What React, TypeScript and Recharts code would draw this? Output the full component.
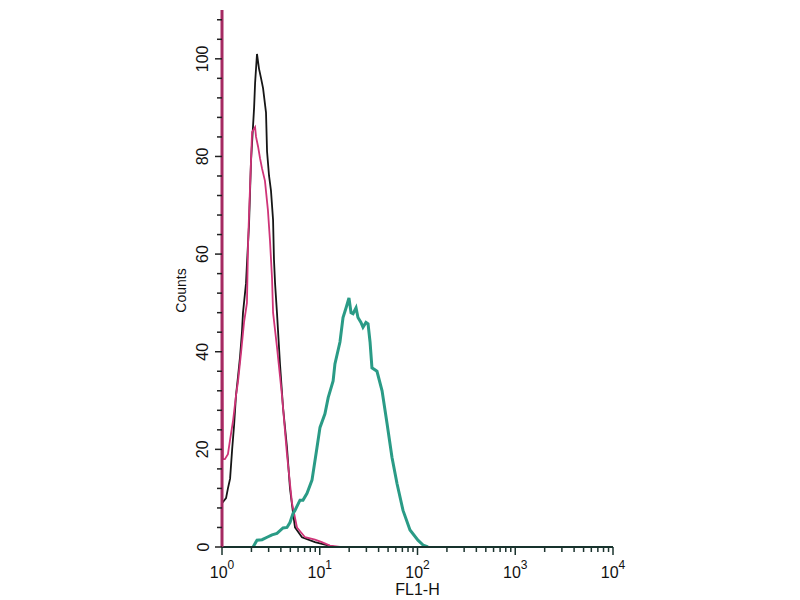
import React from "react";
import { LineChart, Line, XAxis, YAxis, Label } from "recharts";

// FL1-H intensity (log) and event counts
const BLACK_X = [1.0, 1.1, 1.15, 1.21, 1.27, 1.33, 1.39, 1.46, 1.53, 1.6, 1.64, 1.76, 1.8, 1.89, 1.98, 2.13, 2.18, 2.28, 2.39, 2.51, 2.63, 2.82, 2.89, 3.03, 3.17, 3.33, 3.4, 3.49, 3.65, 3.92, 4.21, 4.62, 4.96, 5.33, 5.58, 6.58, 8.94, 11.3, 14.3];
const BLACK_Y = [9, 10, 12, 14, 20, 25, 31, 35, 39, 44, 48, 54, 58, 66, 79, 90, 95, 101, 98, 96, 94, 89, 81, 76, 73, 67, 59, 54, 48, 37.5, 28.6, 20.4, 12, 7, 4, 2, 1, 0.5, 0];

const MAGENTA_X = [1.0, 1.02, 1.07, 1.15, 1.21, 1.3, 1.39, 1.46, 1.57, 1.68, 1.8, 1.85, 1.89, 1.98, 2.03, 2.18, 2.23, 2.34, 2.45, 2.57, 2.75, 2.95, 3.1, 3.25, 3.33, 3.65, 4.11, 4.62, 5.2, 5.85, 7.07, 8.94, 10.5, 12.7, 16.1, 110];
const MAGENTA_Y = [64, 18, 18, 19, 22, 26, 31, 34, 40, 46, 50, 62.6, 68, 79, 85, 86, 84, 82, 79.6, 77.5, 75, 69, 62.6, 55, 48, 41, 31, 19, 9, 4, 2, 1.5, 1, 0.3, 0, 0];

const TEAL_X = [2.08, 2.28, 2.57, 2.89, 3.25, 3.65, 4.21, 4.62, 4.96, 5.33, 5.58, 6.28, 6.74, 7.41, 8.33, 9.37, 10.06, 11.3, 12.2, 13.7, 14.3, 16.1, 17.3, 18.6, 19.9, 20.9, 21.9, 23.5, 24.6, 26.4, 27.7, 29.7, 31.2, 32.7, 34.2, 38.5, 43.4, 48.8, 54.8, 61.7, 71.1, 83.8, 101, 114, 128];
const TEAL_Y = [0, 1.4, 1.5, 2, 2.5, 2.8, 3.9, 4, 5, 6.9, 7.5, 9.6, 9.6, 11, 13.7, 20.4, 24.5, 27.3, 30.6, 34, 37.5, 42, 47, 49, 51, 48, 47.8, 49, 47, 46, 45, 46, 45.7, 42, 36.7, 36, 32, 25.3, 18.4, 13, 7.5, 3.5, 1.4, 0.4, 0];

const X_MAJOR = [1, 10, 100, 1000, 10000];
const X_MINOR_STEPS = [2, 3, 4, 5, 6, 7, 8, 9];
const Y_TICKS = [0, 4, 8, 12, 16, 20, 24, 28, 32, 36, 40, 44, 48, 52, 56, 60, 64, 68, 72, 76, 80, 84, 88, 92, 96, 100, 104, 108];
const Y_LABELS = [0, 20, 40, 60, 80, 100];

const FONT = "'Liberation Sans', Arial, sans-serif";

const pairs = (xs: number[], ys: number[]) => xs.map((x, i) => ({ x, y: ys[i] }));
const blackData = pairs(BLACK_X, BLACK_Y);
const magentaData = pairs(MAGENTA_X, MAGENTA_Y);
const tealData = pairs(TEAL_X, TEAL_Y);

const xTicks = [
  ...X_MAJOR,
  ...X_MAJOR.slice(0, -1).flatMap((d) => X_MINOR_STEPS.map((m) => d * m)),
].sort((a, b) => a - b);

function XTick(props: any) {
  const { x, y, payload } = props;
  const v = payload.value as number;
  const exp = Math.round(Math.log10(v));
  const major = X_MAJOR.includes(v);
  return (
    <g>
      <line x1={x} x2={x} y1={y} y2={y + (major ? 8 : 5)} stroke="#1b332e" strokeWidth={1.5} />
      {major && (
        <text x={x} y={y + 31} textAnchor="middle" fontSize={16} fill="#111" fontFamily={FONT}>
          <tspan>10</tspan>
          <tspan dy={-9} fontSize={12}>{exp}</tspan>
        </text>
      )}
    </g>
  );
}

function YTick(props: any) {
  const { x, y, payload } = props;
  const v = payload.value as number;
  const major = Y_LABELS.includes(v);
  const lx = x - 19;
  return (
    <g>
      <line x1={x - (major ? 7 : 5)} x2={x} y1={y} y2={y} stroke="#222" strokeWidth={1.5} />
      {major && (
        <text
          x={lx}
          y={y}
          transform={`rotate(-90 ${lx} ${y})`}
          textAnchor="middle"
          dominantBaseline="central"
          fontSize={16}
          fill="#111"
          fontFamily={FONT}
        >
          {v}
        </text>
      )}
    </g>
  );
}

function CountsLabel(props: any) {
  const vb = props.viewBox;
  const cx = vb.x + vb.width - 41;
  const cy = vb.y + vb.height / 2 + 12;
  return (
    <text
      x={cx}
      y={cy}
      transform={`rotate(-90 ${cx} ${cy})`}
      textAnchor="middle"
      dominantBaseline="central"
      fontSize={14}
      fill="#111"
      fontFamily={FONT}
    >
      Counts
    </text>
  );
}

export default function App() {
  return (
    <div style={{ position: "absolute", left: 0, top: 0, width: 800, height: 600, background: "#fff" }}>
      <LineChart width={800} height={600} margin={{ top: 10, right: 187, bottom: 0, left: 162 }}>
        <XAxis
          dataKey="x"
          type="number"
          scale="log"
          domain={[1, 10000]}
          allowDataOverflow
          ticks={xTicks}
          interval={0}
          tickSize={0}
          tickMargin={0}
          tickLine={false}
          tick={<XTick />}
          height={53}
          axisLine={{ stroke: "#17332d", strokeWidth: 2 }}
        >
          <Label value="FL1-H" position="insideBottom" offset={5} fontSize={16} fill="#111" fontFamily={FONT} />
        </XAxis>
        <YAxis
          type="number"
          domain={[0, 110]}
          allowDataOverflow
          ticks={Y_TICKS}
          interval={0}
          tickSize={0}
          tickMargin={0}
          tickLine={false}
          tick={<YTick />}
          width={60}
          axisLine={{ stroke: "#a52a62", strokeWidth: 3 }}
        >
          <Label content={<CountsLabel />} />
        </YAxis>
        <Line data={blackData} dataKey="y" type="linear" stroke="#161616" strokeWidth={1.8} dot={false} isAnimationActive={false} />
        <Line data={magentaData} dataKey="y" type="linear" stroke="#cf3478" strokeWidth={1.8} dot={false} isAnimationActive={false} />
        <Line data={tealData} dataKey="y" type="linear" stroke="#2a9b86" strokeWidth={3} dot={false} isAnimationActive={false} />
      </LineChart>
    </div>
  );
}
